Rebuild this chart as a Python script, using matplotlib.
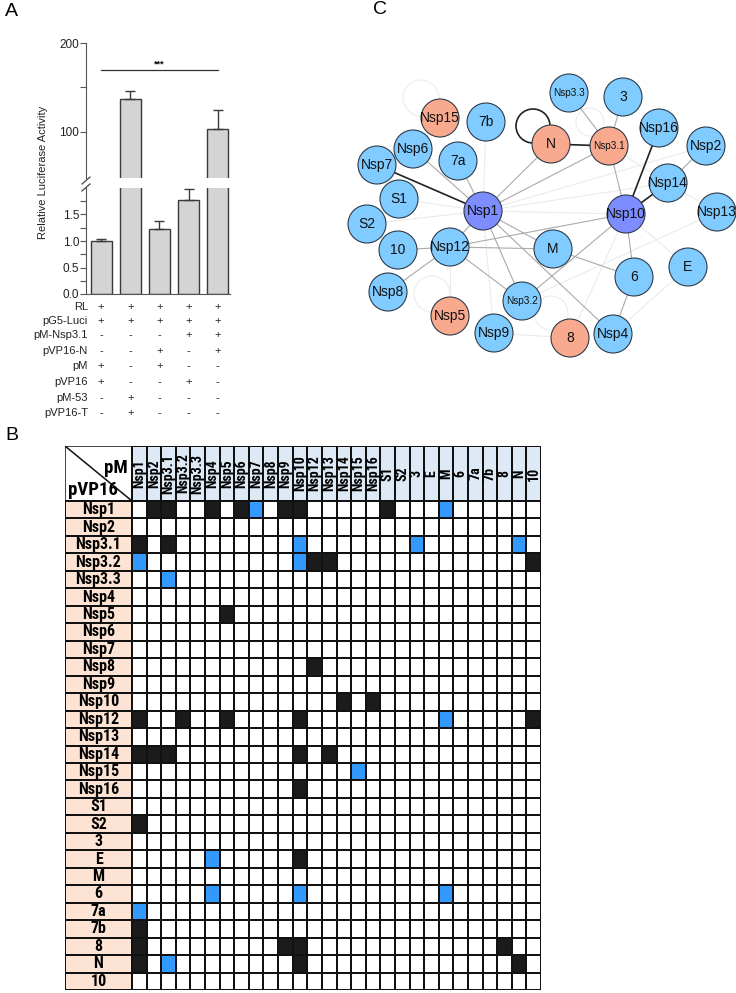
import numpy as np
import matplotlib
matplotlib.use("Agg")
import matplotlib.pyplot as plt
from matplotlib.colors import ListedColormap
from matplotlib.patches import Circle
import matplotlib.transforms as mtransforms

W, H = 736, 993
plt.rcParams['font.family'] = ['Liberation Sans', 'DejaVu Sans']
TABLE_FONT = ['Roboto Condensed', 'Open Sans Condensed', 'Liberation Sans Narrow', 'Lato', 'DejaVu Sans']

# ---------------- panel A data
cond = [1, 2, 3, 4, 5]
luc_mean = [1.0, 136.5, 1.23, 1.78, 103.5]
luc_err = [0.04, 9.5, 0.14, 0.20, 21.0]
plasmids = ["RL", "pG5-Luci", "pM-Nsp3.1", "pVP16-N", "pM", "pVP16", "pM-53", "pVP16-T"]
signs = ["+++++", "+++++", "---++", "--+-+", "+-+--", "+--+-", "-+---", "-+---"]

# ---------------- panel B data (rows = pVP16 prey, cols = pM bait)
proteins = ["Nsp1", "Nsp2", "Nsp3.1", "Nsp3.2", "Nsp3.3", "Nsp4", "Nsp5", "Nsp6", "Nsp7",
            "Nsp8", "Nsp9", "Nsp10", "Nsp12", "Nsp13", "Nsp14", "Nsp15", "Nsp16", "S1", "S2",
            "3", "E", "M", "6", "7a", "7b", "8", "N", "10"]
black_hits = [("Nsp1", "Nsp2"), ("Nsp1", "Nsp3.1"), ("Nsp1", "Nsp4"), ("Nsp1", "Nsp6"),
              ("Nsp1", "Nsp9"), ("Nsp1", "Nsp10"), ("Nsp1", "S1"),
              ("Nsp3.1", "Nsp1"), ("Nsp3.1", "Nsp3.1"),
              ("Nsp3.2", "Nsp12"), ("Nsp3.2", "Nsp13"), ("Nsp3.2", "10"),
              ("Nsp5", "Nsp5"), ("Nsp8", "Nsp12"), ("Nsp10", "Nsp14"), ("Nsp10", "Nsp16"),
              ("Nsp12", "Nsp1"), ("Nsp12", "Nsp3.2"), ("Nsp12", "Nsp5"), ("Nsp12", "Nsp10"),
              ("Nsp12", "10"),
              ("Nsp14", "Nsp1"), ("Nsp14", "Nsp2"), ("Nsp14", "Nsp3.1"), ("Nsp14", "Nsp10"),
              ("Nsp14", "Nsp13"), ("Nsp16", "Nsp10"), ("S2", "Nsp1"), ("E", "Nsp10"),
              ("7b", "Nsp1"), ("8", "Nsp1"), ("8", "Nsp9"), ("8", "Nsp10"), ("8", "8"),
              ("N", "Nsp1"), ("N", "Nsp10"), ("N", "N")]
blue_hits = [("Nsp1", "Nsp7"), ("Nsp1", "M"), ("Nsp3.1", "Nsp10"), ("Nsp3.1", "3"),
             ("Nsp3.1", "N"), ("Nsp3.2", "Nsp1"), ("Nsp3.2", "Nsp10"), ("Nsp3.3", "Nsp3.1"),
             ("Nsp12", "M"), ("Nsp15", "Nsp15"), ("E", "Nsp4"), ("6", "Nsp4"),
             ("6", "Nsp10"), ("6", "M"), ("7a", "Nsp1"), ("N", "Nsp3.1")]

# ---------------- panel C data
hub_nodes = ["Nsp1", "Nsp10"]
self_nodes = ["N", "Nsp3.1", "Nsp15", "Nsp5", "8"]
edges_strong = [("Nsp1", "Nsp7"), ("N", "Nsp3.1"), ("Nsp10", "Nsp16"), ("Nsp10", "Nsp14")]
edges_mid = [("Nsp1", "Nsp6"), ("Nsp1", "7a"), ("Nsp1", "N"), ("Nsp1", "Nsp3.1"),
             ("Nsp1", "Nsp12"), ("Nsp1", "M"), ("Nsp1", "Nsp3.2"), ("Nsp1", "Nsp4"),
             ("Nsp3.1", "Nsp3.3"), ("Nsp3.1", "3"), ("Nsp3.1", "Nsp10"), ("Nsp10", "Nsp12"),
             ("Nsp10", "Nsp3.2"), ("Nsp10", "6"), ("Nsp12", "M"), ("Nsp12", "10"),
             ("Nsp12", "Nsp8"), ("Nsp12", "Nsp3.2"), ("M", "6"), ("6", "Nsp4"),
             ("Nsp14", "Nsp2")]
edges_faint = [("Nsp1", "S1"), ("Nsp1", "S2"), ("Nsp1", "Nsp10"), ("Nsp1", "7b"),
               ("Nsp1", "Nsp2"), ("Nsp1", "Nsp14"), ("Nsp1", "Nsp9"), ("Nsp12", "Nsp5"),
               ("Nsp14", "Nsp13"), ("Nsp3.2", "Nsp13"), ("E", "Nsp4"), ("Nsp9", "8"),
               ("8", "Nsp10"), ("Nsp10", "E"), ("Nsp3.1", "Nsp14")]
# layout (pixel frame of the figure)
layout = {"Nsp3.3": (569, 93), "3": (623, 97), "Nsp15": (440, 118), "7b": (486, 122),
          "N": (551, 144), "Nsp3.1": (609, 146), "Nsp16": (659, 128), "Nsp2": (706, 146),
          "Nsp6": (413, 149), "7a": (458, 161), "Nsp7": (377, 165), "Nsp14": (668, 183),
          "S1": (399, 199), "Nsp1": (483, 211), "Nsp10": (626, 214), "Nsp13": (717, 212),
          "S2": (367, 224), "10": (398, 250), "Nsp12": (450, 247), "M": (553, 249),
          "6": (634, 277), "E": (688, 267), "Nsp8": (388, 292), "Nsp5": (450, 316),
          "Nsp3.2": (522, 301), "Nsp9": (494, 333), "8": (570, 338), "Nsp4": (613, 334)}
loops = {"N": (533, 126, 17), "Nsp3.1": (590, 122, 14), "Nsp15": (421, 98, 18),
         "Nsp5": (432, 294, 18), "8": (551, 313, 17)}


def rect(x0, y0, x1, y1):
    return [x0 / W, 1 - y1 / H, (x1 - x0) / W, (y1 - y0) / H]


fig = plt.figure(figsize=(W / 100, H / 100), dpi=100)

# ================= A
ax_hi = fig.add_axes(rect(86, 43, 230, 178))
ax_lo = fig.add_axes(rect(86, 188, 230, 294))
for ax in (ax_hi, ax_lo):
    ax.bar(cond, luc_mean, width=0.72, color="#d4d4d4", edgecolor="#3a3a3a", lw=1)
    ax.errorbar(cond, luc_mean, yerr=[np.zeros(5), luc_err], fmt="none", ecolor="#3a3a3a",
                elinewidth=1, capsize=3.5, capthick=1)
    ax.set_xlim(0.48, 5.42)
    for s in ("top", "right"):
        ax.spines[s].set_visible(False)
    ax.spines["left"].set_color("#555")
    ax.tick_params(axis="y", labelsize=8.5, length=4, width=0.8, color="#555", pad=1,
                   which="both", labelcolor="#222")
ax_hi.set_ylim(48, 200)
ax_hi.set_yticks([100, 200])
ax_hi.set_yticks([150], minor=True)
ax_hi.spines["bottom"].set_visible(False)
ax_hi.set_xticks([])
ax_lo.set_ylim(0, 2.0)
ax_lo.set_yticks([0, 0.5, 1.0, 1.5])
ax_lo.set_yticklabels(["0.0", "0.5", "1.0", "1.5"])
ax_lo.set_yticks([0.25, 0.75, 1.25, 1.75], minor=True)
ax_lo.spines["bottom"].set_color("#555")
ax_lo.set_xticks([])
ax_hi.plot([1, 5], [170, 170], color="#333", lw=0.9)
ax_hi.text(3, 171, "***", ha="center", va="bottom", fontsize=6.5, fontweight="bold")
for dy in (0, 7):
    fig.add_artist(plt.Line2D([82 / W, 90 / W], [1 - (184 + dy) / H, 1 - (177 + dy) / H],
                              color="#444", lw=0.9))
fig.text(43 / W, 1 - 172 / H, "Relative Luciferase Activity", rotation=90, fontsize=8,
         ha="center", va="center", color="#222")
tr = mtransforms.blended_transform_factory(ax_lo.transData, fig.transFigure)
row_y = [307, 321, 335, 351, 366, 382, 398, 413]
for name, sg, yy in zip(plasmids, signs, row_y):
    fig.text(88 / W, 1 - yy / H, name, ha="right", va="center", fontsize=8, color="#222")
    for c, s in zip(cond, sg):
        fig.text(c, 1 - yy / H, s, transform=tr, ha="center", va="center", fontsize=8,
                 color="#222")

# ================= B
n = len(proteins)
idx = {p: i for i, p in enumerate(proteins)}
mat = np.zeros((n, n))
for r, c in black_hits:
    mat[idx[r], idx[c]] = 1
for r, c in blue_hits:
    mat[idx[r], idx[c]] = 2
LW, HH = 67 / (409 / n), 55 / (489 / n)
ax_b = fig.add_axes(rect(65, 446, 541, 990))
ax_b.pcolormesh(np.arange(n + 1), np.arange(n + 1), mat,
                cmap=ListedColormap(["white", "#1b1b1b", "#3399ff"]), vmin=-0.5, vmax=2.5,
                edgecolors="#111", linewidth=1.1)
ax_b.pcolormesh([-LW, 0], np.arange(n + 1), np.zeros((n, 1)), cmap=ListedColormap(["#fde3d4"]),
                edgecolors="#111", linewidth=1.1)
ax_b.pcolormesh(np.arange(n + 1), [-HH, 0], np.zeros((1, n)), cmap=ListedColormap(["#dde9f5"]),
                edgecolors="#111", linewidth=1.1)
ax_b.plot([-LW, 0, 0, -LW, -LW], [-HH, -HH, 0, 0, -HH], color="#111", lw=1.1)
ax_b.plot([-LW, 0], [-HH, 0], color="#111", lw=1.1)
ax_b.text(-0.3, -HH * 0.6, "pM", ha="right", va="center", fontsize=13.5, fontweight="bold",
          family=TABLE_FONT)
ax_b.text(-LW + 0.2, -HH * 0.2, "pVP16", ha="left", va="center", fontsize=13.5,
          fontweight="bold", family=TABLE_FONT)
for i, p in enumerate(proteins):
    ax_b.text(i + 0.5, -HH / 2, p, rotation=90, ha="center", va="center", fontsize=10,
              fontweight="bold", family=TABLE_FONT)
    ax_b.text(-LW / 2, i + 0.5, p, ha="center", va="center", fontsize=11.5,
              fontweight="bold", family=TABLE_FONT)
ax_b.set_xlim(-LW, n)
ax_b.set_ylim(n, -HH)
ax_b.axis("off")

# ================= C
ax_c = fig.add_axes(rect(330, 40, 736, 370))
ax_c.set_xlim(330, 736)
ax_c.set_ylim(370, 40)
ax_c.axis("off")
for name in self_nodes:
    cx, cy, r = loops[name]
    strong = name == "N"
    ax_c.add_patch(Circle((cx, cy), r, fill=False, ec="#222" if strong else "#ececec",
                          lw=1.2 if strong else 0.8, zorder=1))
for group, col, lw in ((edges_faint, "#ebebeb", 0.8), (edges_mid, "#aaaaaa", 0.8),
                       (edges_strong, "#222222", 1.2)):
    for a, b in group:
        (x0, y0), (x1, y1) = layout[a], layout[b]
        ax_c.plot([x0, x1], [y0, y1], color=col, lw=lw, zorder=2)
for name, (x, y) in layout.items():
    if name in hub_nodes:
        fc = "#7d8cff"
    elif name in self_nodes:
        fc = "#f8a98e"
    else:
        fc = "#80cbff"
    ax_c.add_patch(Circle((x, y), 19, fc=fc, ec="#2e3b4a", lw=0.8, zorder=3))
    fs = 7.2 if name.startswith("Nsp3.") else 10
    ax_c.text(x, y, name, ha="center", va="center", fontsize=fs, zorder=4, color="#111")

fig.text(5 / W, 1 - 12 / H, "A", fontsize=14, va="center", ha="left")
fig.text(5 / W, 1 - 436 / H, "B", fontsize=14, va="center", ha="left")
fig.text(373 / W, 1 - 10 / H, "C", fontsize=14, va="center", ha="left")

fig.savefig("out.png", dpi=100)
